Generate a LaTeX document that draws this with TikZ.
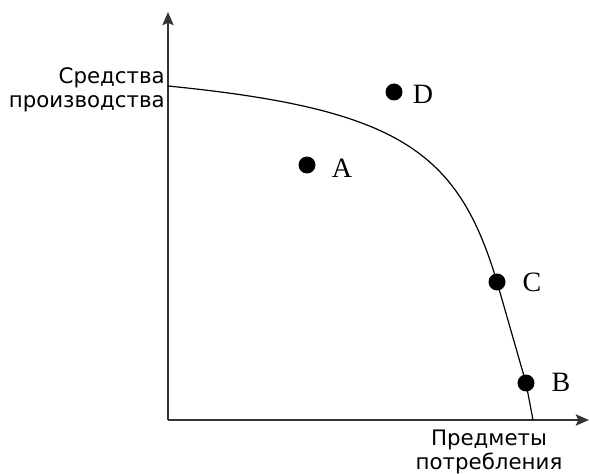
\documentclass[tikz,border=0pt]{standalone}
\usepackage{fontspec}
\setmainfont{Liberation Serif}
\newfontfamily\axisfont{DejaVu Sans}
\usetikzlibrary{arrows.meta}

\begin{document}
\begin{tikzpicture}[x=0.75pt,y=-0.75pt,
  point/.style={coordinate},
  dot/.style={circle, fill=black, inner sep=0pt, minimum size=12.75pt},
  letter/.style={font=\fontsize{21}{25}\selectfont, inner sep=0pt},
  axislabel/.style={font=\axisfont\fontsize{16}{18}\selectfont, inner sep=0pt},
  axis/.style={draw=black!80, line width=1.2pt, -{Stealth[length=10pt,width=8.5pt,inset=2pt]}},
  ppf/.style={draw=black, line width=0.9pt}]
\useasboundingbox (0,0) rectangle (590,474);
\node[point] (O) at (168,420) {};
\node[point] (yTip) at (168,12) {};
\node[point] (xTip) at (589,420) {};
\node[point] (top) at (168,86) {};
\node[point] (bottom) at (533,420) {};
\node[dot] (A) at (307,165) {};
\node[dot] (D) at (394,92) {};
\node[dot] (C) at (497,282) {};
\node[dot] (B) at (526,383) {};
\node[letter] (labA) at (342,168) {A};
\node[letter] (labD) at (423,94) {D};
\node[letter] (labC) at (532,282) {C};
\node[letter] (labB) at (561,382) {B};
\node[axislabel, align=right, anchor=east] (yLabel) at (165,90) {Средства\\производства};
\node[axislabel, align=center] (xLabel) at (489,452) {Предметы\\потребления};
\draw[axis] (O) -- (yTip);
\draw[axis] (O) -- (xTip);
\draw[ppf] (top) .. controls (399,109) and (458,151) .. (C.center) -- (B.center) -- (bottom);
\end{tikzpicture}
\end{document}
